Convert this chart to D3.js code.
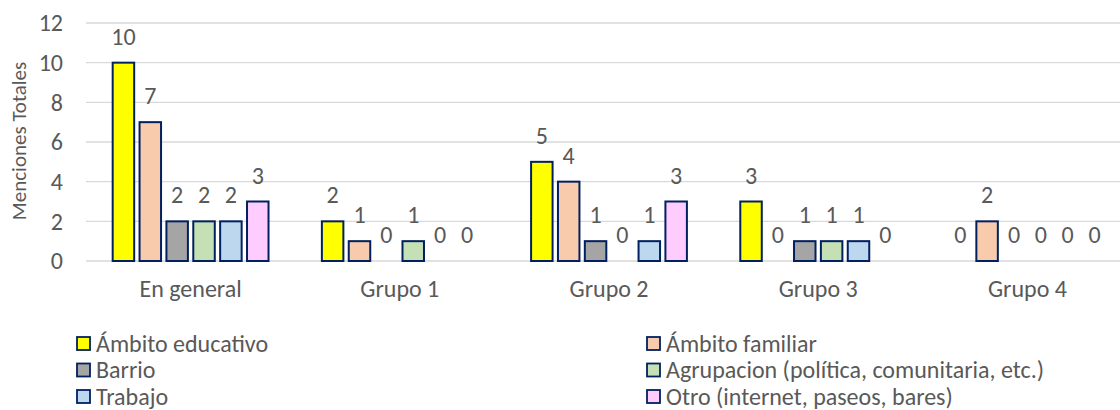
<!DOCTYPE html>
<html>
<head>
<meta charset="utf-8">
<script src="https://cdn.jsdelivr.net/npm/d3@7"></script>
<style>
  body { margin: 0; background: #fff; }
  text { font-family: Carlito, Lato, "Open Sans", sans-serif; fill: #595959; }
</style>
</head>
<body>
<div class="plot"></div>
<script>
// Data
const groups = ["En general", "Grupo 1", "Grupo 2", "Grupo 3", "Grupo 4"];
const seriesNames = ["Ámbito educativo", "Ámbito familiar", "Barrio",
  "Agrupacion (política, comunitaria, etc.)", "Trabajo", "Otro (internet, paseos, bares)"];
const colors = ["#ffff00", "#f8cbad", "#a5a5a5", "#c5e0b4", "#bdd7ee", "#ffccff"];
const educativo  = [10, 2, 5, 3, 0];
const familiar   = [7, 1, 4, 0, 2];
const barrio     = [2, 0, 1, 1, 0];
const agrupacion = [2, 1, 0, 1, 0];
const trabajo    = [2, 0, 1, 1, 0];
const otro       = [3, 0, 3, 0, 0];
const yTicks = [0, 2, 4, 6, 8, 10, 12];

const series = [educativo, familiar, barrio, agrupacion, trabajo, otro];

const W = 1120, H = 410;
const plotLeft = 86, plotRight = 1132, plotTop = 23, plotBottom = 261;
const fontFam = "Carlito, Lato, 'Open Sans', sans-serif";

const svg = d3.select(".plot")
  .append("svg")
    .attr("width", W)
    .attr("height", H);

// Scales
const x0 = d3.scaleBand().domain(groups).range([plotLeft, plotRight]);
const x1 = d3.scaleBand().domain(d3.range(6))
  .range([24, x0.bandwidth() - 24])
  .paddingInner(0.2).paddingOuter(0.1);
const y = d3.scaleLinear().domain([0, 12]).range([plotBottom, plotTop]);

// Gridlines
svg.append("g")
  .selectAll("line")
  .data(yTicks)
  .join("line")
    .attr("x1", plotLeft).attr("x2", plotRight)
    .attr("y1", d => y(d)).attr("y2", d => y(d))
    .attr("stroke", "#d9d9d9")
    .attr("stroke-width", 1.3);

// Y axis labels
const yAxis = svg.append("g")
  .attr("transform", "translate(" + (plotLeft - 23) + ",0)")
  .call(d3.axisLeft(y).tickValues(yTicks).tickSize(0).tickPadding(0));
yAxis.select(".domain").remove();
yAxis.selectAll("text")
  .style("font-family", fontFam)
  .style("font-size", "24px")
  .attr("fill", "#595959");

// Y title
svg.append("text")
  .attr("transform", "translate(26," + ((plotTop + plotBottom) / 2 - 1) + ") rotate(-90)")
  .attr("text-anchor", "middle")
  .style("font-size", "21px")
  .text("Menciones Totales");

// X axis labels
const xAxis = svg.append("g")
  .attr("transform", "translate(0," + plotBottom + ")")
  .call(d3.axisBottom(x0).tickSize(0).tickPadding(19));
xAxis.select(".domain").remove();
xAxis.selectAll("text")
  .style("font-family", fontFam)
  .style("font-size", "24px")
  .attr("fill", "#595959");

// Bars
const cells = [];
groups.forEach((g, gi) => series.forEach((s, si) => cells.push({g: g, si: si, v: s[gi]})));

const bars = svg.append("g");
bars.selectAll("rect")
  .data(cells.filter(d => d.v > 0))
  .join("rect")
    .attr("x", d => x0(d.g) + x1(d.si))
    .attr("y", d => y(d.v))
    .attr("width", x1.bandwidth())
    .attr("height", d => y(0) - y(d.v))
    .attr("fill", d => colors[d.si])
    .attr("stroke", "#002060")
    .attr("stroke-width", 2);

// Value labels
bars.selectAll("text")
  .data(cells)
  .join("text")
    .attr("x", d => x0(d.g) + x1(d.si) + x1.bandwidth() / 2)
    .attr("y", d => y(d.v) - 18)
    .attr("text-anchor", "middle")
    .style("font-size", "24px")
    .attr("fill", "#404040")
    .text(d => d.v);

// Legend
const legend = svg.append("g");
const legItems = legend.selectAll("g")
  .data(seriesNames)
  .join("g")
    .attr("transform", (d, i) => "translate(" + (i % 2 === 0 ? 77 : 647) + "," + (343.5 + Math.floor(i / 2) * 26.5) + ")");
legItems.append("rect")
  .attr("x", 0).attr("y", -6.5)
  .attr("width", 13).attr("height", 13)
  .attr("fill", (d, i) => colors[i])
  .attr("stroke", "#002060")
  .attr("stroke-width", 1.8);
legItems.append("text")
  .attr("x", 19)
  .attr("dy", "0.35em")
  .style("font-size", "24px")
  .text(d => d);
</script>
</body>
</html>
